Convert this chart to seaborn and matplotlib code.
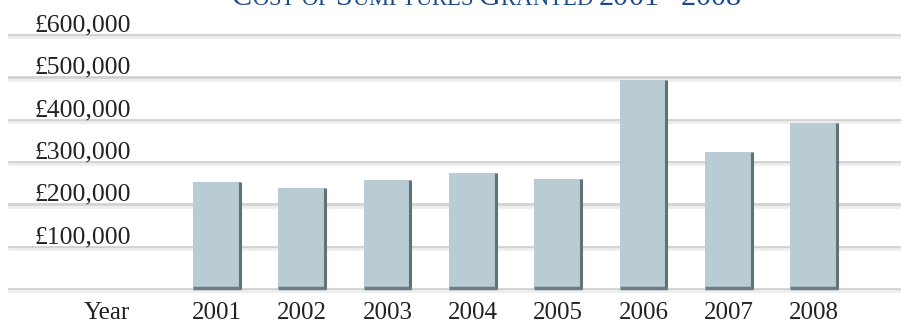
import matplotlib
matplotlib.use("Agg")
import matplotlib.pyplot as plt
import matplotlib.transforms as mtransforms
import seaborn as sns
import pandas as pd

years = ["2001", "2002", "2003", "2004", "2005", "2006", "2007", "2008"]
costs = [253000, 239000, 258000, 274000, 260000, 494000, 324000, 392000]
tick_values = [100000, 200000, 300000, 400000, 500000, 600000]
tick_labels = ["£100,000", "£200,000", "£300,000", "£400,000", "£500,000", "£600,000"]
title = "Cost of Sumptures Granted 2001 - 2008"

sns.set_style("white")
plt.rcParams["font.family"] = ["Liberation Serif", "DejaVu Serif"]

df = pd.DataFrame({"year": years, "cost": costs})

fig = plt.figure(figsize=(9.01, 3.25), dpi=100)
W, H = 901, 325
# axes: left edge at x=8px, zero line at y=289px, 600k line at y=35px
y0_px, y600_px = 289, 35
px_per_unit = (y0_px - y600_px) / 600000
ax_bottom_px = 300
ax_top_px = 30
ax = fig.add_axes([8 / W, 1 - ax_bottom_px / H, 1 - 8 / W, (ax_bottom_px - ax_top_px) / H])
ymin = -(ax_bottom_px - y0_px) / px_per_unit
ymax = 600000 + (y600_px - ax_top_px) / px_per_unit

bar_color = "#b9ccd4"
sns.barplot(data=df, x="year", y="cost", color=bar_color, width=0.56,
            saturation=1, ax=ax, zorder=3, edgecolor="none")

# bar centres at 217px, spacing 85.3px
step = 85.3
ax.set_xlim((8 - 217) / step, (901 - 217) / step)
ax.set_ylim(ymin, ymax)

# gridlines with a soft lighter band beneath each
for v in [0] + tick_values:
    ax.axhline(v, color="#d2d2d2", lw=2.0, zorder=1)
    ax.axhline(v - 2.2 / px_per_unit, color="#eeeeee", lw=2.0, zorder=1)

# darker right and bottom edges on each bar
for p in ax.patches:
    x0, w, h = p.get_x(), p.get_width(), p.get_height()
    ax.plot([x0 + w - 0.012, x0 + w - 0.012], [0, h], color="#627178", lw=2.2,
            solid_capstyle="butt", zorder=4)
    ax.plot([x0, x0 + w], [1.5 / px_per_unit, 1.5 / px_per_unit], color="#6d7c82",
            lw=2.5, solid_capstyle="butt", zorder=4)

for s in ax.spines.values():
    s.set_visible(False)
ax.set_xticks([])
ax.set_yticks([])
ax.set_xlabel("")
ax.set_ylabel("")

text_color = "#222222"
# value labels sit just above their gridlines
lab_tr = mtransforms.blended_transform_factory(fig.transFigure, ax.transData)
off = mtransforms.ScaledTranslation(0, 3.5 / 100, fig.dpi_scale_trans)
for v, lab in zip(tick_values, tick_labels):
    ax.text(35 / W, v, lab, transform=lab_tr + off, ha="left", va="baseline",
            fontsize=18.5, color=text_color)

# category labels under the bars
cat_tr = mtransforms.blended_transform_factory(ax.transData, fig.transFigure)
for i, yr in enumerate(years):
    ax.text(i, 1 - 319 / H, yr, transform=cat_tr, ha="center", va="baseline",
            fontsize=18, color=text_color, clip_on=False)
fig.text(107 / W, 1 - 319 / H, "Year", ha="center", va="baseline",
         fontsize=18, color=text_color)

# small-caps title, partly above the top edge
title_color = "#1b4a8c"
x = 232
big, small = 21.7, 16.3
renderer = fig.canvas.get_renderer()
for word in title.split(" "):
    for j, ch in enumerate(word):
        size = big if ((j == 0 and word != "of") or ch.isdigit() or ch == "-") else small
        t = fig.text(x / W, 1 - 5 / H, ch.upper(), ha="left", va="baseline",
                     fontsize=size, color=title_color)
        bb = t.get_window_extent(renderer=renderer)
        x += bb.width
    x += 6

fig.savefig("out.png", dpi=100, facecolor="white")
